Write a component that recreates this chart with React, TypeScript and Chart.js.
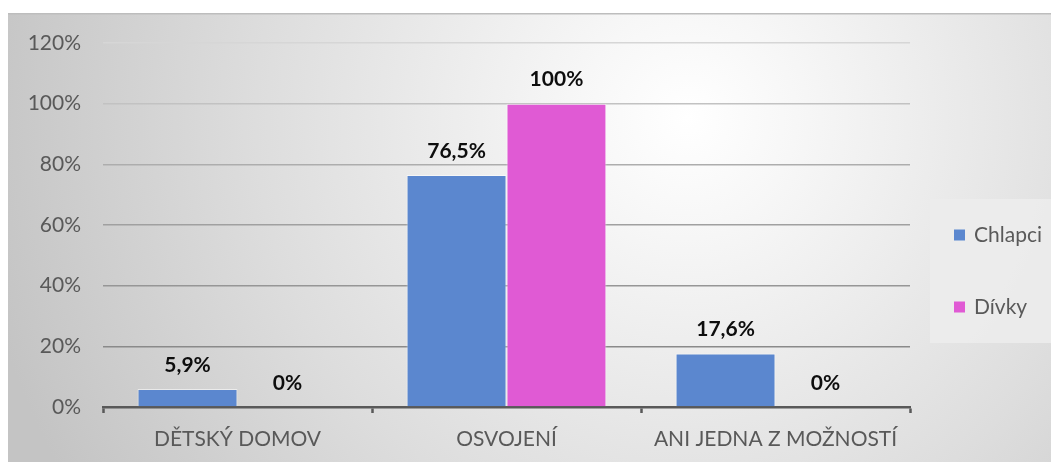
import React, { useEffect, useRef } from "react";
import { Chart, registerables } from "chart.js";

Chart.register(...registerables);

const categories = ["DĚTSKÝ DOMOV", "OSVOJENÍ", "ANI JEDNA Z MOŽNOSTÍ"];
const chlapci = [5.9, 76.5, 17.6];
const divky = [0, 100, 0];
const seriesNames = ["Chlapci", "Dívky"];
const seriesColors = ["#5B87CF", "#E05AD4"];
const yTicks = [0, 20, 40, 60, 80, 100, 120];

const FONT = "Lato, 'Open Sans', sans-serif";

const gridColors: Record<number, string> = {
  0: "#8a8a8a",
  20: "#8a8a8a",
  40: "#969696",
  60: "#a0a0a0",
  80: "#adadad",
  100: "#c2c2c2",
  120: "#d6d6d6",
};

const fmt = (v: number) => String(v).replace(".", ",") + "%";

const bgPlugin = {
  id: "bgPanel",
  beforeDraw(chart: any) {
    const { ctx, width, height } = chart;
    ctx.save();
    ctx.fillStyle = "#ffffff";
    ctx.fillRect(0, 0, width, height);
    const top = 5;
    const g = ctx.createRadialGradient(680, 110, 0, 680, 110, 720);
    g.addColorStop(0, "#ffffff");
    g.addColorStop(0.15, "#f7f7f7");
    g.addColorStop(0.6, "#dddddd");
    g.addColorStop(1, "#c4c4c4");
    ctx.fillStyle = g;
    ctx.fillRect(0, top, width, height - top);
    ctx.fillStyle = "#bdbdbd";
    ctx.fillRect(0, top, width, 1.5);
    ctx.restore();
  },
};

const labelPlugin = {
  id: "valueLabels",
  afterDatasetsDraw(chart: any) {
    const { ctx } = chart;
    ctx.save();
    ctx.font = `bold 21px ${FONT}`;
    ctx.fillStyle = "#0d0d0d";
    ctx.textAlign = "center";
    ctx.textBaseline = "middle";
    chart.data.datasets.forEach((ds: any, i: number) => {
      const meta = chart.getDatasetMeta(i);
      meta.data.forEach((el: any, j: number) => {
        ctx.fillText(fmt(ds.data[j]), el.x, el.y - 24);
      });
    });
    ctx.restore();
  },
};

const legendPlugin = {
  id: "boxLegend",
  afterDraw(chart: any) {
    const { ctx } = chart;
    ctx.save();
    ctx.fillStyle = "rgba(236,236,236,0.9)";
    ctx.fillRect(922, 191, 129, 144);
    ctx.font = `21px ${FONT}`;
    ctx.textBaseline = "middle";
    ctx.textAlign = "left";
    const ys = [227, 299];
    chart.data.datasets.forEach((ds: any, i: number) => {
      ctx.fillStyle = ds.backgroundColor;
      ctx.fillRect(946, ys[i] - 5.5, 11, 11);
      ctx.fillStyle = "#595959";
      ctx.fillText(ds.label, 966, ys[i]);
    });
    ctx.restore();
  },
};

export default function App() {
  const ref = useRef<HTMLCanvasElement>(null);
  useEffect(() => {
    if (!ref.current) return;
    const chart = new Chart(ref.current, {
      type: "bar",
      data: {
        labels: categories,
        datasets: [
          {
            label: seriesNames[0],
            data: chlapci,
            backgroundColor: seriesColors[0],
            borderColor: "rgba(255,255,255,0.55)",
            borderWidth: 1,
            categoryPercentage: 0.743,
            barPercentage: 1,
          },
          {
            label: seriesNames[1],
            data: divky,
            backgroundColor: seriesColors[1],
            borderColor: "rgba(255,255,255,0.55)",
            borderWidth: 1,
            categoryPercentage: 0.743,
            barPercentage: 1,
          },
        ],
      },
      options: {
        responsive: false,
        animation: false,
        layout: { padding: { top: 35, right: 149, left: 0, bottom: 0 } },
        plugins: {
          legend: { display: false },
          tooltip: { enabled: false },
        },
        scales: {
          x: {
            grid: {
              drawOnChartArea: false,
              drawTicks: true,
              tickLength: 6,
              tickWidth: 2.5,
              tickColor: "#595959",
              offset: true,
            },
            border: { display: true, color: "#595959", width: 2.5 },
            ticks: {
              color: "#595959",
              font: { family: FONT, size: 21 },
              padding: 14,
              maxRotation: 0,
            },
            afterFit: (s: any) => {
              s.height = 55;
            },
          },
          y: {
            min: 0,
            max: 120,
            afterBuildTicks: (s: any) => {
              s.ticks = yTicks.map((v) => ({ value: v }));
            },
            grid: {
              drawTicks: false,
              lineWidth: 1.5,
              color: (c: any) => gridColors[c.tick?.value] ?? "#aaaaaa",
            },
            border: { display: false },
            ticks: {
              color: "#595959",
              font: { family: FONT, size: 21 },
              padding: 22,
              callback: (v: any) => v + "%",
            },
            afterFit: (s: any) => {
              s.width = 95;
            },
          },
        },
      },
      plugins: [bgPlugin, labelPlugin, legendPlugin],
    });
    return () => chart.destroy();
  }, []);
  return (
    <canvas
      ref={ref}
      width={1051}
      height={454}
      style={{ display: "block", width: 1051, height: 454 }}
    />
  );
}
